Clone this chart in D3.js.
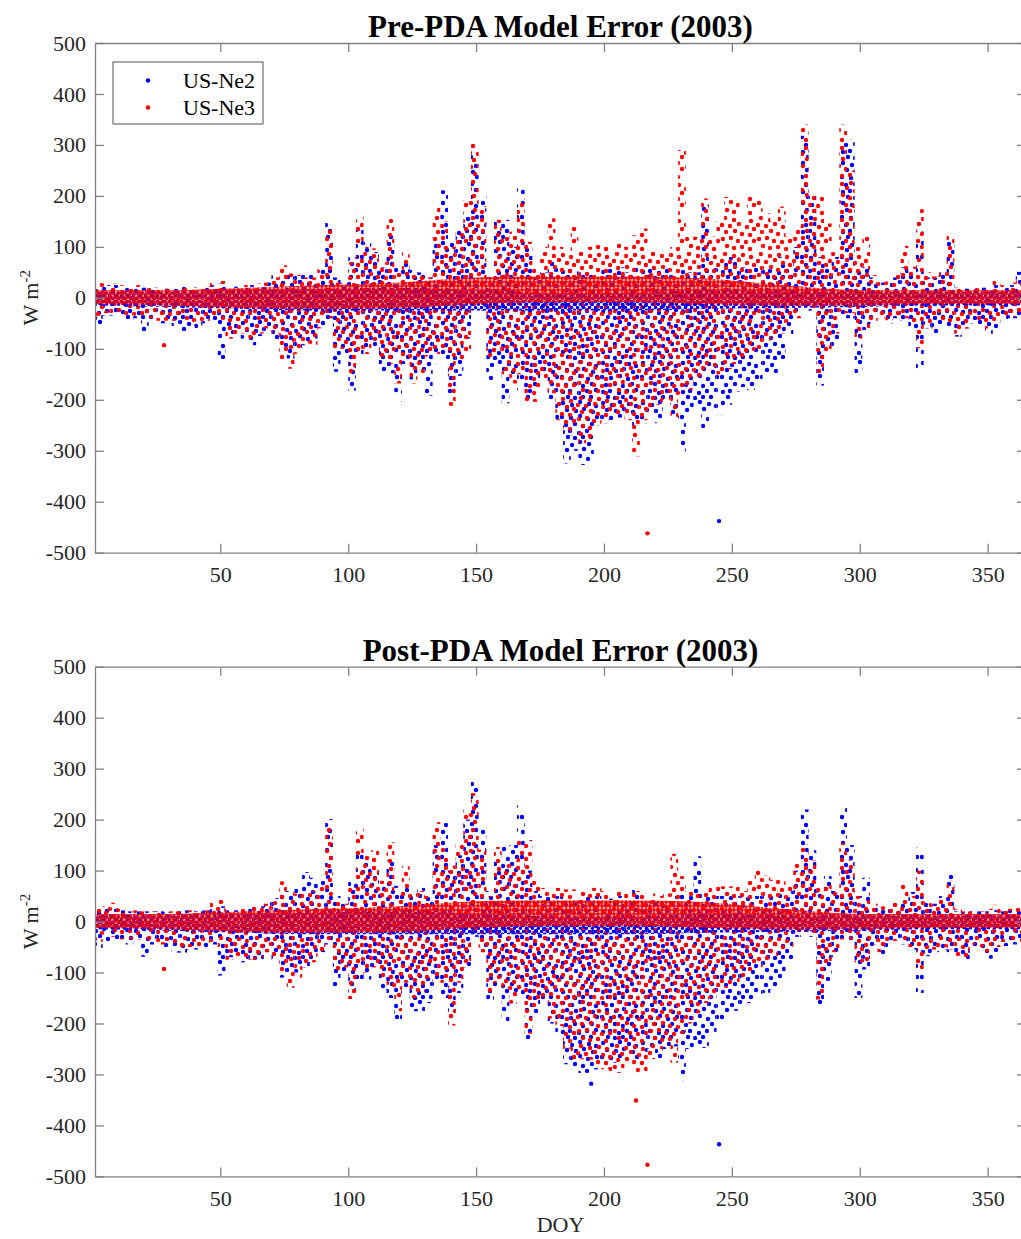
<!DOCTYPE html>
<meta charset="utf-8">
<script src="https://d3js.org/d3.v7.min.js"></script>
<style>
  body { margin: 0; background: #fff; }
  text { font-family: "Liberation Serif", "Times New Roman", serif; }
</style>
<div id="chart"></div>
<script>
// bins of 3 days: bin i covers DOY binStart[i] .. binStart[i]+3
var binStart = d3.range(1, 365, 3);

// ---- Pre-PDA (top panel), upper / lower extent of each bin ----
var preNe2Hi = [25,25,25,22,20,22,20,20,20,18, 20,22,22,20,22,25,28,22,22,25,
  25,25,30,45,45,45,45,48,45,60, 148,40,30,80,133,110,90,60,126,60,
  70,55,50,40,120,211,110,133,160,285, 200,40,153,153,100,218,100,40,50,74,
  60,60,60,50,50,50,60,60,60,50, 60,70,60,60,60,50,60,50,50,182,
  60,70,80,80,60,60,60,60,60,80, 60,100,318,200,80,60,80,310,310,60,
  60,40,30,30,40,60,50,130,40,40, 50,110,20,18,20,20,20,25,22,25, 51,30];
var preNe2Lo = [-55,-35,-35,-40,-45,-40,-70,-45,-50,-50, -55,-65,-55,-60,-50,-45,-121,-75,-70,-80,
  -93,-75,-65,-83,-100,-119,-100,-93,-80,-60, -45,-145,-110,-182,-122,-100,-99,-148,-148,-204,
  -130,-160,-140,-192,-130,-120,-187,-153,-80,-20, -25,-161,-130,-207,-150,-181,-200,-180,-150,-200,
  -250,-325,-300,-328,-320,-250,-246,-240,-235,-230, -250,-246,-230,-246,-200,-230,-304,-230,-210,-256,
  -220,-230,-210,-184,-175,-181,-170,-148,-148,-120, -76,-50,-20,-25,-172,-100,-96,-40,-40,-148,
  -63,-50,-44,-50,-40,-45,-60,-149,-60,-70, -55,-60,-76,-60,-50,-55,-73,-63,-45,-40, -40,-40];
var preNe3Hi = [30,35,28,25,22,25,22,20,22,20, 20,20,22,20,22,30,33,20,22,25,
  25,28,30,40,64,48,45,40,40,55, 133,30,25,70,177,100,97,70,161,50,
  90,50,45,40,179,150,100,133,192,303, 180,30,153,120,130,195,110,60,100,156,
  100,90,139,90,100,104,100,95,110,100, 123,136,94,94,94,100,290,120,120,195,
  120,150,198,198,150,200,195,166,150,179, 120,139,340,200,198,146,90,340,250,100,
  123,45,32,32,45,102,61,174,50,42, 50,126,25,19,22,22,22,35,25,30, 35,30];
var preNe3Lo = [-40,-30,-30,-35,-35,-35,-40,-40,-45,-45, -45,-50,-50,-55,-45,-40,-50,-80,-75,-70,
  -80,-70,-60,-70,-122,-139,-110,-90,-93,-60, -40,-100,-100,-155,-120,-110,-90,-120,-130,-168,
  -120,-168,-150,-115,-110,-100,-212,-120,-119,-17, -20,-122,-110,-150,-168,-150,-204,-204,-160,-187,
  -240,-260,-270,-285,-275,-250,-240,-230,-230,-240, -311,-240,-220,-210,-200,-236,-190,-180,-160,-150,
  -140,-150,-140,-130,-120,-110,-100,-90,-80,-70, -50,-40,-17,-20,-151,-122,-70,-30,-30,-80,
  -60,-45,-40,-44,-38,-40,-55,-99,-50,-60, -50,-55,-70,-60,-45,-50,-60,-50,-40,-37, -37,-35];

// ---- Post-PDA (bottom panel) ----
var postNe2Hi = [20,25,25,22,20,20,20,20,20,18, 20,22,22,20,22,25,30,22,22,25,
  30,30,40,46,60,60,70,97,86,80, 201,50,40,80,140,120,100,70,120,70,
  70,50,66,50,150,194,100,130,200,275, 180,60,120,148,150,228,100,60,50,50,
  50,40,40,45,50,50,40,45,50,40, 63,40,40,40,40,50,60,50,128,60,
  50,50,50,50,50,50,50,50,50,60, 60,100,220,140,60,89,60,223,150,50,
  86,30,25,25,35,40,58,145,40,35, 50,92,20,18,20,20,20,22,20,22, 30,25];
var postNe2Lo = [-52,-40,-35,-40,-45,-40,-69,-45,-50,-50, -61,-61,-55,-55,-50,-45,-106,-70,-65,-80,
  -80,-75,-60,-80,-110,-100,-100,-90,-75,-60, -45,-132,-100,-140,-114,-114,-90,-133,-150,-198,
  -130,-176,-176,-160,-130,-150,-186,-140,-90,-30, -60,-156,-130,-200,-140,-150,-232,-180,-153,-200,
  -230,-280,-290,-297,-297,-290,-280,-277,-270,-260, -270,-260,-250,-274,-250,-245,-313,-250,-248,-248,
  -220,-200,-179,-175,-166,-160,-150,-140,-133,-120, -75,-30,-22,-30,-165,-117,-70,-40,-40,-150,
  -94,-50,-71,-50,-40,-45,-55,-140,-68,-60, -55,-60,-75,-75,-50,-55,-73,-60,-48,-45, -45,-45];
var postNe3Hi = [25,30,37,25,22,22,20,20,22,20, 20,20,22,20,22,40,46,20,22,25,
  30,30,35,40,79,60,55,60,60,70, 190,40,35,70,186,130,140,80,156,60,
  109,60,60,50,195,150,110,154,220,252, 141,50,146,120,120,161,160,80,66,66,
  66,63,63,60,66,66,60,60,66,60, 60,60,55,50,55,133,89,60,60,60,
  69,69,69,69,60,80,102,90,82,82, 70,120,151,120,70,80,60,154,120,50,
  60,35,30,30,40,77,50,100,40,35, 50,80,25,20,20,20,25,33,22,25, 30,25];
var postNe3Lo = [-40,-30,-30,-35,-35,-35,-40,-40,-45,-45, -45,-50,-50,-50,-45,-40,-50,-75,-70,-75,
  -75,-70,-60,-75,-100,-130,-110,-85,-80,-60, -40,-100,-90,-152,-110,-100,-90,-110,-130,-176,
  -120,-150,-140,-120,-110,-120,-204,-120,-100,-25, -60,-143,-120,-140,-161,-140,-220,-170,-153,-190,
  -205,-250,-274,-270,-271,-280,-290,-297,-297,-280, -297,-297,-270,-250,-240,-277,-220,-200,-180,-160,
  -150,-140,-130,-120,-110,-100,-90,-80,-70,-60, -50,-25,-20,-25,-153,-100,-60,-35,-35,-80,
  -80,-45,-60,-45,-38,-40,-50,-100,-60,-55, -50,-55,-70,-70,-45,-50,-60,-50,-40,-40, -40,-40];

// dense band of points around zero (both panels)
var coreDoy   = [1,30,60,90,120,150,180,210,240,270,300,330,365];
var ne2CoreHi = [12,12,15,18,20,15,10,10,15,12,12,12,12];
var ne2CoreLo = [-15,-18,-22,-25,-25,-25,-25,-25,-22,-20,-18,-15,-15];
var ne3CoreHi = [15,15,20,25,30,40,42,42,38,25,15,15,15];
var ne3CoreLo = [-12,-15,-20,-22,-20,-12,-8,-8,-12,-15,-15,-12,-12];

// isolated points [DOY, W m-2]
var preNe2Out  = [[245,-438]];
var preNe3Out  = [[28,-93],[217,-462]];
var postNe2Out = [[195,-318],[245,-437]];
var postNe3Out = [[28,-93],[212.5,-351],[217,-477]];

var xTicks = [50,100,150,200,250,300,350];
var yTicks = [-500,-400,-300,-200,-100,0,100,200,300,400,500];

var blue = "#0000ff", red = "#ff0000";
var axisColor = "#808080", textColor = "#262626";

var W = 1021, H = 1239;
var plotLeft = 95, plotRight = 1026, plotH = 509.7;

var svg = d3.select("#chart").append("svg")
  .attr("width", W).attr("height", H);

var defs = svg.append("defs");
function dotPattern(id, color, size, dots, r) {
  var p = defs.append("pattern").attr("id", id)
    .attr("patternUnits", "userSpaceOnUse")
    .attr("width", size).attr("height", size);
  p.selectAll("circle").data(dots).join("circle")
    .attr("cx", d => d[0]).attr("cy", d => d[1])
    .attr("r", r).attr("fill", color);
}
// scattered marker look: two tiles of different size so the mix does not repeat
dotPattern("dotsBlue", blue, 40, [[3,3],[12,5],[20,2],[29,4],[36,6],[7,10],[16,11],[24,9],[33,12],
  [2,17],[11,18],[20,16],[28,19],[37,17],[6,25],[15,24],[23,26],[32,24],
  [3,32],[10,31],[19,33],[27,31],[36,30],[8,37],[15,38],[23,37],[31,37]], 2.2);
dotPattern("dotsRed", red, 36, [[5,2],[14,4],[23,3],[31,5],[2,9],[10,10],[19,8],[27,11],[34,13],
  [6,16],[15,15],[22,18],[30,19],[3,23],[11,22],[18,25],[26,26],[34,25],
  [7,30],[14,32],[22,31],[30,33]], 2.2);
dotPattern("coreBlue", blue, 6, [[1.5,1.5],[4.5,4.2]], 1.8);
dotPattern("coreRed", red, 4, [[2,2]], 1.9);

var x = d3.scaleLinear().domain([1, 365]).range([plotLeft, plotRight]);

var panels = [
  {title: "Pre-PDA Model Error (2003)", top: 43,
   ne2Hi: preNe2Hi, ne2Lo: preNe2Lo, ne3Hi: preNe3Hi, ne3Lo: preNe3Lo,
   ne2Out: preNe2Out, ne3Out: preNe3Out, legend: true, xlabel: false},
  {title: "Post-PDA Model Error (2003)", top: 666.7,
   ne2Hi: postNe2Hi, ne2Lo: postNe2Lo, ne3Hi: postNe3Hi, ne3Lo: postNe3Lo,
   ne2Out: postNe2Out, ne3Out: postNe3Out, legend: false, xlabel: true}
];

panels.forEach(function(p, k) {
  var y = d3.scaleLinear().domain([-500, 500]).range([p.top + plotH, p.top]);

  svg.append("clipPath").attr("id", "clip" + k)
    .append("rect").attr("x", plotLeft).attr("y", p.top)
    .attr("width", plotRight - plotLeft).attr("height", plotH);

  var g = svg.append("g").attr("clip-path", "url(#clip" + k + ")");

  function envelope(hi, lo, fill) {
    var rows = binStart.map(function(s, i) { return {s: s, hi: hi[i], lo: lo[i]}; });
    g.append("g").selectAll("rect").data(rows).join("rect")
      .attr("x", d => x(d.s))
      .attr("width", d => x(Math.min(d.s + 3, 365)) - x(d.s))
      .attr("y", d => y(d.hi))
      .attr("height", d => y(d.lo) - y(d.hi))
      .attr("fill", fill);
  }
  function core(hi, lo, fill) {
    var area = d3.area()
      .x((d, i) => x(coreDoy[i]))
      .y0((d, i) => y(lo[i]))
      .y1((d, i) => y(hi[i]))
      .curve(d3.curveMonotoneX);
    g.append("path").datum(coreDoy).attr("d", area).attr("fill", fill);
  }
  function outliers(pts, color) {
    g.append("g").selectAll("circle").data(pts).join("circle")
      .attr("cx", d => x(d[0])).attr("cy", d => y(d[1]))
      .attr("r", 2.2).attr("fill", color);
  }

  envelope(p.ne2Hi, p.ne2Lo, "url(#dotsBlue)");
  envelope(p.ne3Hi, p.ne3Lo, "url(#dotsRed)");
  core(ne2CoreHi, ne2CoreLo, "url(#coreBlue)");
  core(ne3CoreHi, ne3CoreLo, "url(#coreRed)");
  outliers(p.ne2Out, blue);
  outliers(p.ne3Out, red);

  // axes, box style with inward ticks; plain hyphen for negatives
  var fmt = d => String(d);
  var bottom = svg.append("g").attr("transform", "translate(0," + (p.top + plotH) + ")")
    .call(d3.axisBottom(x).tickValues(xTicks).tickFormat(fmt).tickSize(-9).tickSizeOuter(0).tickPadding(14));
  var topAx = svg.append("g").attr("transform", "translate(0," + p.top + ")")
    .call(d3.axisTop(x).tickValues(xTicks).tickSize(-9).tickSizeOuter(0).tickFormat(""));
  var left = svg.append("g").attr("transform", "translate(" + plotLeft + ",0)")
    .call(d3.axisLeft(y).tickValues(yTicks).tickFormat(fmt).tickSize(-9).tickSizeOuter(0).tickPadding(9));
  var right = svg.append("g").attr("transform", "translate(" + plotRight + ",0)")
    .call(d3.axisRight(y).tickValues(yTicks).tickSize(-9).tickSizeOuter(0).tickFormat(""));

  [bottom, topAx, left, right].forEach(function(a) {
    a.select(".domain").attr("stroke", axisColor).attr("stroke-width", 1.3);
    a.selectAll(".tick line").attr("stroke", axisColor).attr("stroke-width", 1.3);
    a.selectAll(".tick text").attr("fill", textColor)
      .style("font-family", "'Liberation Serif', 'Times New Roman', serif")
      .style("font-size", "22px");
  });

  // title
  svg.append("text")
    .attr("x", (plotLeft + plotRight) / 2).attr("y", p.top - 6)
    .attr("text-anchor", "middle")
    .style("font-size", "31px").style("font-weight", "bold")
    .attr("fill", "#000")
    .text(p.title);

  // y label
  var yl = svg.append("text")
    .attr("transform", "translate(38," + (p.top + plotH / 2) + ") rotate(-90)")
    .attr("text-anchor", "middle")
    .style("font-size", "22px").attr("fill", textColor);
  yl.append("tspan").text("W m");
  yl.append("tspan").attr("baseline-shift", "super").style("font-size", "15px").text("-2");

  if (p.legend) {
    var lg = svg.append("g");
    lg.append("rect").attr("x", 113).attr("y", 62).attr("width", 150).attr("height", 62)
      .attr("fill", "#fff").attr("stroke", "#262626").attr("stroke-width", 0.8);
    var items = [["US-Ne2", blue], ["US-Ne3", red]];
    items.forEach(function(it, i) {
      var cy = 80.5 + i * 27;
      lg.append("circle").attr("cx", 148).attr("cy", cy).attr("r", 2.2).attr("fill", it[1]);
      lg.append("text").attr("x", 183).attr("y", cy).attr("dy", "0.35em")
        .style("font-size", "22px").attr("fill", "#000").text(it[0]);
    });
  }

  if (p.xlabel) {
    svg.append("text")
      .attr("x", (plotLeft + plotRight) / 2).attr("y", p.top + plotH + 56)
      .attr("text-anchor", "middle")
      .style("font-size", "22px").attr("fill", textColor)
      .text("DOY");
  }
});
</script>
